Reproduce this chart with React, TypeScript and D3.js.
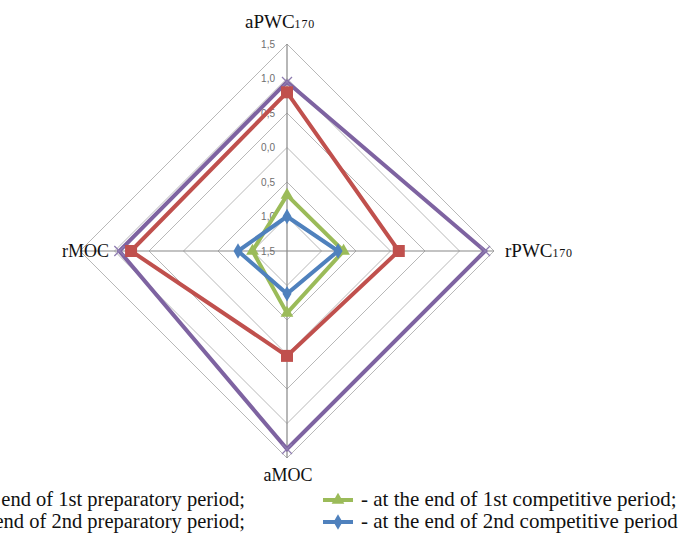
import React from "react";
import * as d3 from "d3";

const axes = ["aPWC", "rPWC", "aMOC", "rMOC"];
const axisSubs = ["170", "170", "", ""];
const tickValues = [-1.5, -1.0, -0.5, 0.0, 0.5, 1.0, 1.5];
const tickLabels = ["1,5", "1,0", "0,5", "0,0", "0,5", "1,0", "1,5"];

const seriesNames = [
  "- at the end of 1st preparatory period;",
  "- at the end of 2nd preparatory period;",
  "- at the end of 1st competitive period;",
  "- at the end of 2nd competitive period",
];
const prep1 = [0.95, 1.37, 1.37, 0.93];
const prep2 = [0.8, 0.12, 0.02, 0.76];
const comp1 = [-0.69, -0.68, -0.6, -1.0];
const comp2 = [-1.0, -0.76, -0.88, -0.79];
const seriesValues = [prep1, prep2, comp1, comp2];
const seriesColors = ["#7E63A1", "#C0504D", "#9BBB59", "#4F81BD"];
const seriesMarkers = ["x", "square", "triangle", "diamond"];

const W = 694;
const H = 558;
const cx = 287;
const cy = 251;
const R = 207;
const serif = "'Liberation Serif', 'Times New Roman', serif";

export default function App() {
  const r = d3.scaleLinear().domain([-1.5, 1.5]).range([0, R]);
  const angle = (i: number) => (i * 2 * Math.PI) / axes.length;
  const pt = (i: number, v: number): [number, number] => [
    cx + r(v) * Math.sin(angle(i)),
    cy - r(v) * Math.cos(angle(i)),
  ];
  const closed = d3.line().curve(d3.curveLinearClosed);

  const marker = (type: string, x: number, y: number, color: string, key: string) => {
    if (type === "square")
      return <rect key={key} x={x - 6} y={y - 6} width={12} height={12} fill={color} />;
    if (type === "triangle")
      return <path key={key} d={d3.symbol(d3.symbolTriangle, 70)()!} transform={`translate(${x},${y})`} fill={color} />;
    if (type === "diamond")
      return <path key={key} d={d3.symbol(d3.symbolDiamond, 70)()!} transform={`translate(${x},${y})`} fill={color} />;
    return (
      <path key={key} d={`M${x - 5},${y - 5}L${x + 5},${y + 5}M${x - 5},${y + 5}L${x + 5},${y - 5}`} stroke="#8E7CB0" strokeWidth={1.3} fill="none" />
    );
  };

  const legendX = [245, 361];
  const legendY = [506, 528];
  const labelStyle = { fontFamily: serif };

  return (
    <div style={{ position: "absolute", left: 0, top: 0 }}>
      <svg width={W} height={H} style={{ display: "block", background: "#fff" }}>
        {/* grid */}
        {tickValues.slice(1).map((t, k) => (
          <path key={"g" + k} d={closed(axes.map((_, i) => pt(i, t)))!} fill="none" stroke="#B8B8B8" strokeWidth={1} />
        ))}
        {axes.map((_, i) => {
          const [x, y] = pt(i, 1.5);
          return <line key={"s" + i} x1={cx} y1={cy} x2={x} y2={y} stroke="#878787" strokeWidth={1.2} />;
        })}
        {/* tick labels */}
        {tickValues.map((t, k) => (
          <text key={"t" + k} x={cx - 12} y={cy - r(t)} dy="0.35em" textAnchor="end" style={{ fontFamily: "'Liberation Sans', Arial, sans-serif" }} fontSize={10} fill="#6E6E6E">
            {tickLabels[k]}
          </text>
        ))}
        {/* series */}
        {seriesValues.map((vals, s) => (
          <g key={"ser" + s}>
            <path d={closed(vals.map((v, i) => pt(i, v)))!} fill="none" stroke={seriesColors[s]} strokeWidth={4} strokeLinejoin="miter" />
            {vals.map((v, i) => {
              const [x, y] = pt(i, v);
              return marker(seriesMarkers[s], x, y, seriesColors[s], `m${s}-${i}`);
            })}
          </g>
        ))}
        {/* axis labels */}
        <text x={245} y={28} fontSize={19} fill="#111" style={labelStyle}>
          {axes[0]}
          <tspan fontSize={12} letterSpacing={0.8}>{axisSubs[0]}</tspan>
        </text>
        <text x={505} y={257} fontSize={19} fill="#111" style={labelStyle}>
          {axes[1]}
          <tspan fontSize={12} letterSpacing={0.8}>{axisSubs[1]}</tspan>
        </text>
        <text x={cx + 1} y={481} fontSize={18} textAnchor="middle" fill="#111" style={labelStyle}>
          {axes[2]}
        </text>
        <text x={109} y={257} fontSize={18} textAnchor="end" fill="#111" style={labelStyle}>
          {axes[3]}
        </text>
        {/* legend */}
        {seriesNames.map((name, s) => {
          const col = s < 2 ? 0 : 1;
          const row = s % 2;
          const y = legendY[row];
          if (col === 0) {
            return (
              <text key={"l" + s} x={legendX[0]} y={y} fontSize={20.5} textAnchor="end" fill="#111" style={labelStyle}>
                {name}
              </text>
            );
          }
          const mx = 338;
          return (
            <g key={"l" + s}>
              <line x1={323} x2={353} y1={y - 6} y2={y - 6} stroke={seriesColors[s]} strokeWidth={4} />
              {marker(seriesMarkers[s], mx, y - 6, seriesColors[s], "lm" + s)}
              <text x={legendX[1]} y={y} fontSize={21} fill="#111" style={labelStyle}>
                {name}
              </text>
            </g>
          );
        })}
      </svg>
    </div>
  );
}
